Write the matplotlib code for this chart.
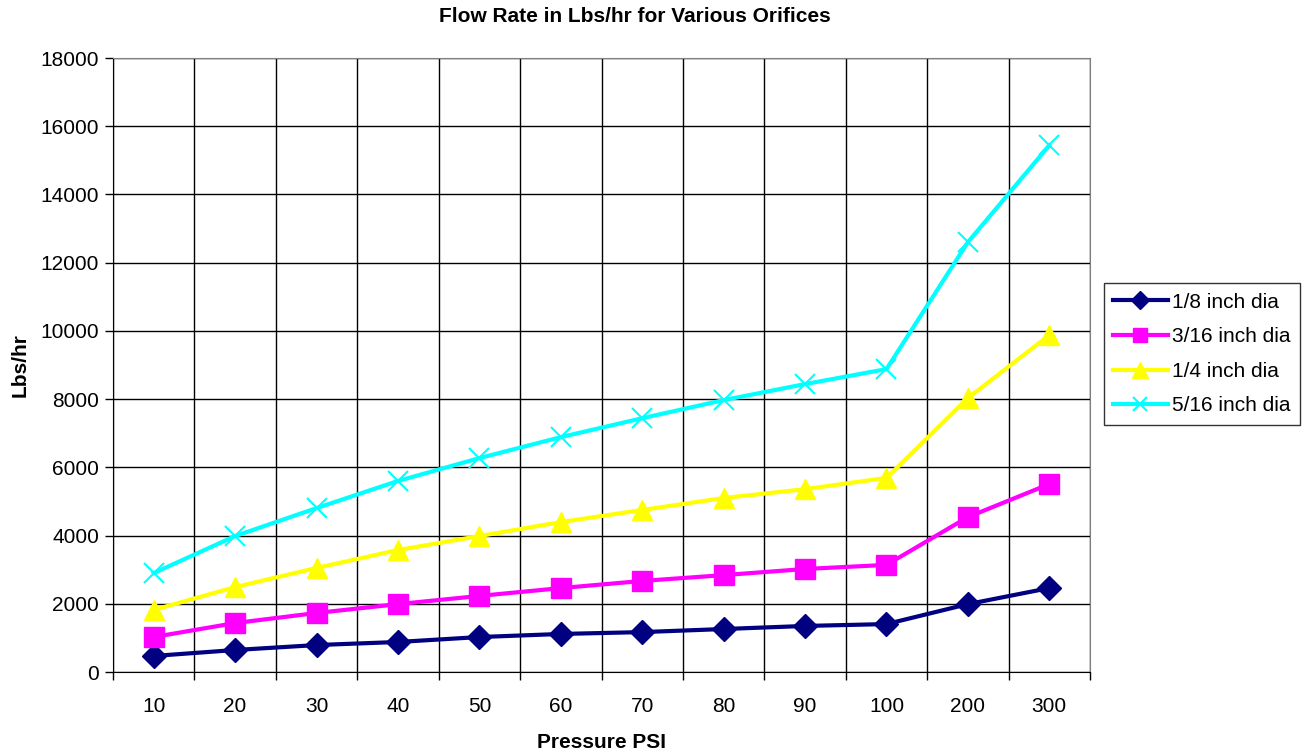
import matplotlib
matplotlib.use("Agg")
import matplotlib.pyplot as plt
from matplotlib.ticker import MultipleLocator, FixedLocator

plt.rcParams['font.family'] = ['Liberation Sans', 'DejaVu Sans']

# pressure categories (PSI)
pressures = ['10', '20', '30', '40', '50', '60', '70', '80', '90', '100', '200', '300']

# flow rate in lbs/hr
dia_1_8 = [470, 645, 790, 880, 1025, 1115, 1170, 1260, 1350, 1405, 1990, 2460]
dia_3_16 = [1025, 1435, 1730, 1990, 2230, 2460, 2670, 2840, 3020, 3140, 4540, 5510]
dia_1_4 = [1820, 2490, 3050, 3575, 3985, 4395, 4750, 5100, 5360, 5690, 8030, 9875]
dia_5_16 = [2900, 3985, 4805, 5600, 6270, 6885, 7440, 7970, 8440, 8880, 12600, 15440]

series = [
    ('1/8 inch dia', dia_1_8, '#000080', 'D', 12),
    ('3/16 inch dia', dia_3_16, '#FF00FF', 's', 14),
    ('1/4 inch dia', dia_1_4, '#FFFF00', '^', 15),
    ('5/16 inch dia', dia_5_16, '#00FFFF', 'x', 14),
]

fig = plt.figure(figsize=(13.08, 7.54), dpi=100)
ax = fig.add_axes([113 / 1308, 1 - 672 / 754, (1090 - 113) / 1308, (672 - 58) / 754])

x = list(range(len(pressures)))
for label, vals, color, marker, ms in series:
    ax.plot(x, vals, color=color, marker=marker, markersize=ms, linewidth=3,
            markeredgewidth=1.5 if marker == 'x' else 1, label=label, zorder=3)

ax.set_xlim(-0.5, len(pressures) - 0.5)
ax.set_ylim(0, 18000)
ax.yaxis.set_major_locator(MultipleLocator(2000))
ax.set_xticks(x)
ax.set_xticklabels(pressures)
ax.xaxis.set_minor_locator(FixedLocator([i - 0.5 for i in range(len(pressures) + 1)]))

ax.tick_params(axis='x', which='major', length=0, labelsize=15, pad=18)
ax.tick_params(axis='x', which='minor', length=6, width=1, direction='out')
ax.tick_params(axis='y', which='major', length=6, width=1, labelsize=15, pad=4)

ax.grid(True, axis='y', which='major', color='black', linewidth=1)
ax.grid(True, axis='x', which='minor', color='black', linewidth=1)
ax.set_axisbelow(True)

for side in ['top', 'right']:
    ax.spines[side].set_color('#808080')
for side in ['left', 'bottom']:
    ax.spines[side].set_color('black')

ax.set_xlabel('Pressure PSI', fontsize=15, fontweight='bold', labelpad=12)
ax.set_ylabel('Lbs/hr', fontsize=15, fontweight='bold', labelpad=8)
fig.text(635 / 1308, 1 - 16 / 754, 'Flow Rate in Lbs/hr for Various Orifices',
         ha='center', va='center', fontsize=15, fontweight='bold')

leg = ax.legend(loc='center left', bbox_to_anchor=(1104 / 1308, 1 - 354 / 754),
                bbox_transform=fig.transFigure, fontsize=15, frameon=True,
                fancybox=False, edgecolor='black', borderpad=0.45,
                handlelength=2.6, handletextpad=0.2, labelspacing=0.75,
                markerscale=0.75, borderaxespad=0)
leg.get_frame().set_linewidth(1)

fig.savefig('out.png', dpi=100)
